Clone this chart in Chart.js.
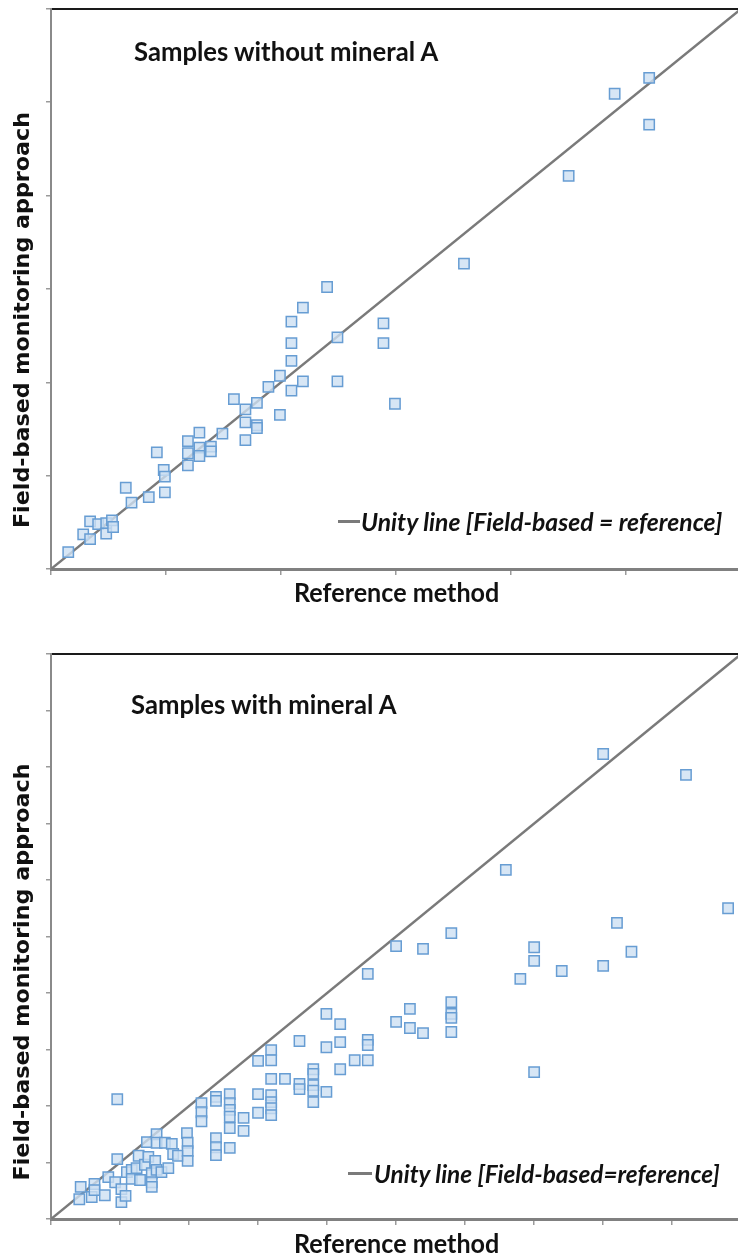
<!DOCTYPE html>
<html>
<head>
<meta charset="utf-8">
<script src="https://cdn.jsdelivr.net/npm/chart.js@4.4.1/dist/chart.umd.min.js"></script>
<style>
  html, body { margin: 0; padding: 0; background: #fff; overflow: hidden; width: 738px; height: 1256px; }
  .panel { position: absolute; left: 0; width: 750px; height: 628px; }
  #topPanel { top: 0; }
  #bottomPanel { top: 628px; }
  .lbl { position: absolute; white-space: nowrap; line-height: 1; color: #111; z-index: 2; }
  .ylab { font-family: "DejaVu Sans"; font-weight: bold; font-size: 22px; }
  .xlab { font-family: Lato; font-weight: bold; font-size: 26px; }
  .title { font-family: Lato; font-weight: bold; font-size: 27px; }
  .legend { font-family: Lato; font-weight: bold; font-style: italic; font-size: 24px; }
  .seg { position: absolute; height: 3px; background: #7a7a7a; z-index: 2; }
</style>
</head>
<body>
<div class="panel" id="topPanel"><canvas id="topChart"></canvas></div>
<div class="panel" id="bottomPanel"><canvas id="bottomChart"></canvas></div>
<script>
// Samples without mineral A
const withoutRef = [0.15, 0.28, 0.34, 0.34, 0.41, 0.48, 0.48, 0.53, 0.54, 0.65,
  0.70, 0.85, 0.92, 0.98, 0.99, 0.99, 1.19, 1.19, 1.19, 1.29,
  1.29, 1.29, 1.39, 1.39, 1.49, 1.59, 1.69, 1.69, 1.69, 1.79,
  1.79, 1.79, 1.89, 1.99, 1.99, 2.09, 2.09, 2.09, 2.09, 2.19,
  2.19, 2.40, 2.49, 2.49, 2.89, 2.89, 2.99, 3.59, 4.50, 4.90,
  5.20, 5.20];
const withoutField = [0.18, 0.37, 0.32, 0.51, 0.48, 0.49, 0.38, 0.52, 0.45, 0.87,
  0.71, 0.77, 1.25, 1.06, 0.99, 0.82, 1.37, 1.24, 1.11, 1.46,
  1.30, 1.21, 1.31, 1.26, 1.45, 1.82, 1.71, 1.57, 1.38, 1.78,
  1.54, 1.51, 1.95, 2.07, 1.65, 2.65, 2.42, 2.23, 1.91, 2.80,
  2.01, 3.02, 2.48, 2.01, 2.63, 2.42, 1.77, 3.27, 4.21, 5.09,
  5.26, 4.76];

// Samples with mineral A
const withRef = [0.41, 0.43, 0.59, 0.63, 0.63, 0.78, 0.83, 0.93, 0.96, 0.96,
  1.02, 1.02, 1.08, 1.10, 1.17, 1.17, 1.24, 1.27, 1.29, 1.36,
  1.39, 1.41, 1.46, 1.46, 1.46, 1.51, 1.53, 1.53, 1.53, 1.60,
  1.65, 1.70, 1.75, 1.77, 1.84, 1.97, 1.98, 1.98, 1.98, 2.18,
  2.18, 2.18, 2.39, 2.39, 2.39, 2.39, 2.39, 2.59, 2.59, 2.59,
  2.59, 2.59, 2.59, 2.79, 2.79, 3.00, 3.00, 3.00, 3.19, 3.19,
  3.19, 3.19, 3.19, 3.19, 3.19, 3.39, 3.60, 3.60, 3.60, 3.80,
  3.80, 3.80, 3.80, 3.80, 3.99, 3.99, 3.99, 4.19, 4.19, 4.19,
  4.40, 4.59, 4.59, 4.59, 4.59, 5.00, 5.00, 5.20, 5.20, 5.39,
  5.39, 5.80, 5.80, 5.80, 5.80, 5.80, 6.59, 6.80, 7.00, 7.00,
  7.00, 7.40, 8.00, 8.00, 8.20, 8.41, 9.20, 9.81];
const withField = [0.35, 0.57, 0.39, 0.62, 0.51, 0.42, 0.74, 0.65, 2.12, 1.06,
  0.53, 0.30, 0.41, 0.83, 0.87, 0.71, 0.90, 1.12, 0.69, 0.96,
  1.36, 1.10, 0.81, 0.65, 0.57, 1.03, 1.50, 1.35, 0.87, 0.83,
  1.35, 0.90, 1.33, 1.15, 1.12, 1.52, 1.35, 1.20, 1.03, 2.05,
  1.89, 1.73, 2.16, 2.09, 1.43, 1.27, 1.13, 2.21, 2.05, 1.93,
  1.81, 1.61, 1.26, 1.79, 1.56, 2.80, 2.21, 1.88, 2.99, 2.81,
  2.48, 2.19, 2.07, 1.96, 1.84, 2.48, 3.15, 2.39, 2.30, 2.65,
  2.57, 2.37, 2.27, 2.07, 3.63, 3.04, 2.25, 3.45, 3.13, 2.65,
  2.81, 4.34, 3.17, 3.08, 2.81, 4.83, 3.49, 3.72, 3.38, 4.78,
  3.29, 5.06, 3.84, 3.63, 3.56, 3.31, 6.18, 4.25, 4.81, 4.57,
  2.60, 4.39, 4.48, 8.23, 5.24, 4.73, 7.86, 5.50];

// unity line ends (field-based = reference)
const unityTop = [0, 6];
const unityBottom = [0, 10];

function makeChart(id, refVals, fieldVals, unity, topGap, bottomGap) {
  const points = refVals.map((x, i) => ({ x: x, y: fieldVals[i] }));
  const axisMax = unity[1];
  return new Chart(document.getElementById(id), {
    type: 'scatter',
    data: {
      datasets: [
        {
          type: 'line',
          data: unity.map(v => ({ x: v, y: v })),
          borderColor: '#7a7a7a',
          borderWidth: 2.5,
          pointRadius: 0,
          order: 2
        },
        {
          data: points,
          pointStyle: 'rect',
          pointRadius: 7.3,
          backgroundColor: 'rgba(205, 224, 243, 0.8)',
          borderColor: '#679dd3',
          borderWidth: 1.5,
          order: 1
        }
      ]
    },
    options: {
      responsive: true,
      maintainAspectRatio: false,
      animation: false,
      layout: { padding: { top: 0, right: 4, bottom: 0, left: 0 } },
      plugins: { legend: { display: false }, tooltip: { enabled: false } },
      scales: {
        x: {
          type: 'linear', position: 'bottom', min: 0, max: axisMax,
          ticks: { display: false, stepSize: 1 },
          grid: { drawOnChartArea: false, drawTicks: true, tickLength: 6, color: '#9a9a9a', lineWidth: 1.5 },
          border: { color: '#808080', width: 3 },
          afterFit: s => { s.height = bottomGap; }
        },
        xTop: {
          type: 'linear', position: 'top', min: 0, max: axisMax,
          ticks: { display: false },
          grid: { drawOnChartArea: false, drawTicks: false },
          border: { color: '#1a1a1a', width: 2 },
          afterFit: s => { s.height = topGap; }
        },
        y: {
          type: 'linear', min: 0, max: axisMax,
          ticks: { display: false, stepSize: 1 },
          grid: { drawOnChartArea: false, drawTicks: true, tickLength: 5, color: '#9a9a9a', lineWidth: 1.5 },
          border: { color: '#8a8a8a', width: 2 },
          afterFit: s => { s.width = 51; }
        }
      }
    }
  });
}

makeChart('topChart', withoutRef, withoutField, unityTop, 3, 59);
makeChart('bottomChart', withRef, withField, unityBottom, 26, 37);

// text labels fitted to the widths seen in the figure
function addLabel(text, cls, x, y, w, vertical) {
  const el = document.createElement('div');
  el.className = 'lbl ' + cls;
  el.textContent = text;
  document.body.appendChild(el);
  const sx = w / el.offsetWidth;
  if (vertical) {
    el.style.left = (x - el.offsetWidth / 2) + 'px';
    el.style.top = (y - el.offsetHeight / 2) + 'px';
    el.style.transformOrigin = 'center center';
    el.style.transform = 'rotate(-90deg) scaleX(' + sx + ')';
  } else {
    el.style.left = x + 'px';
    el.style.top = (y - el.offsetHeight / 2) + 'px';
    el.style.transformOrigin = 'left center';
    el.style.transform = 'scaleX(' + sx + ')';
  }
}
function addSeg(x1, x2, y) {
  const el = document.createElement('div');
  el.className = 'seg';
  el.style.left = x1 + 'px';
  el.style.width = (x2 - x1) + 'px';
  el.style.top = (y - 1.5) + 'px';
  document.body.appendChild(el);
}

addLabel('Samples without mineral A', 'title', 134, 50, 304, false);
addLabel('Field-based monitoring approach', 'ylab', 22, 320, 416, true);
addLabel('Reference method', 'xlab', 294, 592, 205, false);
addSeg(338, 360, 521);
addLabel('Unity line [Field-based = reference]', 'legend', 361, 522, 361, false);

addLabel('Samples with mineral A', 'title', 131, 703, 265, false);
addLabel('Field-based monitoring approach', 'ylab', 22, 972, 417, true);
addLabel('Reference method', 'xlab', 294, 1243, 205, false);
addSeg(348, 372, 1173);
addLabel('Unity line [Field-based=reference]', 'legend', 374, 1174, 346, false);
</script>
</body>
</html>
